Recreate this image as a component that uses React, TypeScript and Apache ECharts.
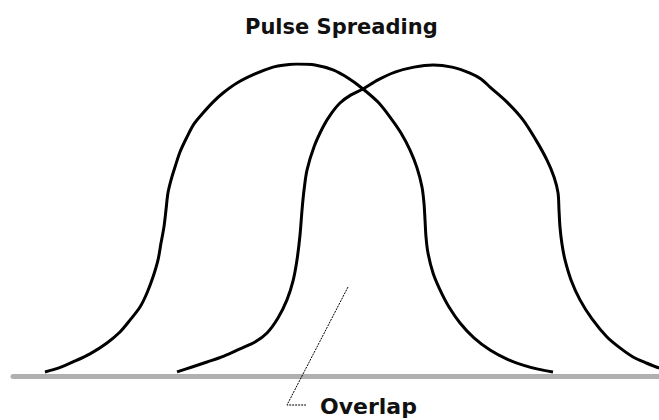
import React, { useEffect, useRef } from "react";
import * as echarts from "echarts";

// Pulse A (earlier pulse): [time, amplitude]
const pulseA: [number, number][] = [
  [4.95, 0.013], [7.12, 0.026], [9.29, 0.045], [11.92, 0.071], [14.55, 0.106],
  [16.56, 0.141], [18.11, 0.179], [19.66, 0.221], [20.74, 0.266], [21.67, 0.317],
  [22.45, 0.372], [22.91, 0.426], [23.37, 0.478], [23.68, 0.532], [23.99, 0.587],
  [24.46, 0.628], [25.08, 0.67], [25.85, 0.718], [26.93, 0.766], [28.02, 0.808],
  [29.41, 0.843], [30.96, 0.878], [32.51, 0.907], [34.67, 0.939], [37.46, 0.968],
  [40.25, 0.99], [42.11, 0.997], [43.96, 1.0], [46.75, 0.997], [49.54, 0.981],
  [51.86, 0.955], [54.18, 0.92], [56.5, 0.878], [58.36, 0.83], [60.06, 0.779],
  [61.46, 0.724], [62.54, 0.667], [63.31, 0.606], [63.62, 0.554], [63.78, 0.5],
  [63.93, 0.446], [64.24, 0.394], [65.02, 0.33], [66.1, 0.276], [67.49, 0.221],
  [69.2, 0.17], [71.36, 0.122], [73.84, 0.083], [76.47, 0.054], [78.95, 0.035],
  [81.27, 0.022], [83.59, 0.013],
];

// Pulse B (later pulse): [time, amplitude]
const pulseB: [number, number][] = [
  [25.39, 0.013], [27.71, 0.029], [30.03, 0.045], [32.66, 0.064], [35.14, 0.087],
  [37.46, 0.109], [39.32, 0.138], [41.02, 0.186], [42.41, 0.244], [43.34, 0.304],
  [43.96, 0.372], [44.43, 0.452], [44.74, 0.532], [45.05, 0.596], [45.51, 0.66],
  [46.59, 0.734], [47.99, 0.798], [49.23, 0.84], [50.62, 0.875], [52.32, 0.901],
  [54.18, 0.92], [56.5, 0.949], [59.13, 0.974], [62.07, 0.99], [65.02, 0.997],
  [67.96, 0.99], [70.74, 0.971], [72.45, 0.952], [73.84, 0.926], [76.47, 0.878],
  [78.95, 0.821], [80.96, 0.756], [82.66, 0.692], [83.75, 0.638], [84.37, 0.587],
  [84.52, 0.532], [84.67, 0.478], [84.98, 0.423], [85.45, 0.372], [86.38, 0.308],
  [87.77, 0.244], [89.63, 0.183], [91.95, 0.125], [93.96, 0.09], [95.98, 0.061],
  [97.99, 0.042], [100.0, 0.026], [102.17, 0.016], [104.49, 0.01],
];

const titleText = "Pulse Spreading";
const annotationText = "Overlap";

export default function App() {
  const ref = useRef<HTMLDivElement>(null);
  useEffect(() => {
    document.body.style.margin = "0";
    if (!ref.current) return;
    const chart = echarts.init(ref.current, undefined, { renderer: "svg" });
    const lineStyle = { color: "#000", width: 3 };
    const font = "'DejaVu Sans', Verdana, sans-serif";
    chart.setOption({
      animation: false,
      backgroundColor: "#fff",
      title: {
        text: titleText,
        left: 240,
        top: 11,
        textStyle: {
          fontFamily: font,
          fontWeight: "bold",
          fontSize: 21,
          color: "#111",
        },
      },
      grid: { left: 13, right: 0, top: 64, bottom: 44 },
      xAxis: {
        type: "value",
        min: 0,
        max: 100,
        axisLine: { show: true, lineStyle: { color: "#b0b0b0", width: 5 } },
        axisTick: { show: false },
        axisLabel: { show: false },
        splitLine: { show: false },
      },
      yAxis: {
        type: "value",
        min: 0,
        max: 1,
        show: false,
        splitLine: { show: false },
      },
      series: [
        {
          type: "line",
          data: pulseA,
          smooth: 0.3,
          symbol: "none",
          lineStyle,
          z: 3,
        },
        {
          type: "line",
          data: pulseB,
          smooth: 0.3,
          symbol: "none",
          lineStyle,
          z: 3,
        },
      ],
      graphic: [
        {
          type: "polyline",
          shape: { points: [[348, 287], [287, 405], [306, 405]] },
          style: { stroke: "#000", lineWidth: 1, lineDash: [2, 1], fill: null },
          z: 10,
        },
        {
          type: "text",
          x: 320,
          y: 406,
          style: {
            text: annotationText,
            fontFamily: font,
            fontWeight: "bold",
            fontSize: 22,
            fill: "#111",
            textVerticalAlign: "middle",
          },
          z: 10,
        },
      ],
    });
    return () => chart.dispose();
  }, []);
  return <div ref={ref} style={{ width: 659, height: 420 }} />;
}
